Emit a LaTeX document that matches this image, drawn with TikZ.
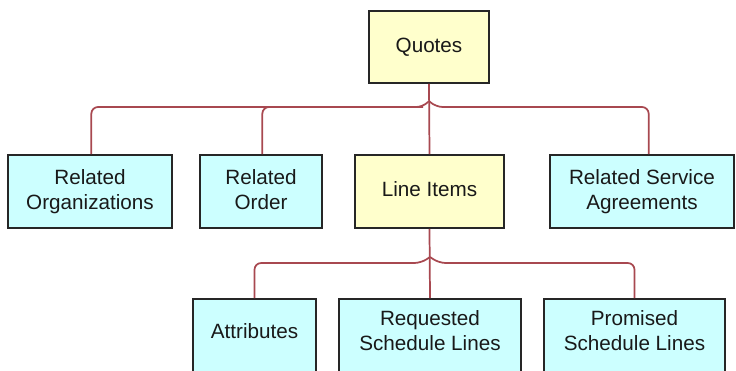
\documentclass[tikz,border=0pt]{standalone}
\usepackage{fontspec}
\setmainfont{Liberation Sans}
\definecolor{boxcyan}{HTML}{CCFFFF}
\definecolor{boxyellow}{HTML}{FFFFCC}
\definecolor{connred}{HTML}{A84850}
\begin{document}
\begin{tikzpicture}[x=0.75pt,y=-0.75pt,
  box/.style={draw=black!85,line width=1.4pt,align=center,inner sep=0pt,
    font=\fontsize{15.5}{18.75}\selectfont,text=black!90},
  cbox/.style={box,fill=boxcyan},
  ybox/.style={box,fill=boxyellow},
  conn/.style={draw=connred,line width=1.3pt}]
\useasboundingbox (0,0) rectangle (736,371);
\clip (0,0) rectangle (736,371);
% top level
\node[ybox,minimum width=90pt,minimum height=54pt] (quotes) at (429,47) {Quotes\strut};
% second row
\node[cbox,minimum width=123pt,minimum height=54.75pt] (rorg) at (90,191.5) {\strut Related\\Organizations\strut};
\node[cbox,minimum width=91.5pt,minimum height=54.75pt] (rord) at (261,191.5) {\strut Related\\Order\strut};
\node[ybox,minimum width=111.75pt,minimum height=54.75pt] (li) at (429.5,191.5) {Line Items\strut};
\node[cbox,minimum width=138pt,minimum height=54.75pt] (rsa) at (642,191.5) {\strut Related Service\\Agreements\strut};
% third row (cut by the lower edge)
\node[cbox,minimum width=92.25pt,minimum height=60pt] (attr) at (254.5,339) {};
\node[cbox,minimum width=136.5pt,minimum height=60pt] (req) at (430,339) {};
\node[cbox,minimum width=135.75pt,minimum height=60pt] (prom) at (634.5,339) {};
\node[box,draw=none,fill=none] (attrtext) at (254.5,333) {Attributes\strut};
\node[box,draw=none,fill=none] (reqtext) at (430,333) {\strut Requested\\Schedule Lines\strut};
\node[box,draw=none,fill=none] (promtext) at (634.5,333) {\strut Promised\\Schedule Lines\strut};
% junction points
\coordinate (tL) at (423,107);
\coordinate (tR) at (436,107);
\coordinate (tT) at (429,101);
\coordinate (bL) at (421,263);
\coordinate (bR) at (439,263);
\coordinate (bT) at (430,257);
% connectors
\draw[conn] (quotes.south) -- (li.north);
\draw[conn,rounded corners=5] ([xshift=1]rorg.north) |- (tL) -- (tT);
\draw[conn,rounded corners=5] ([xshift=1]rord.north) |- (tL);
\draw[conn,rounded corners=5] ([xshift=5]rsa.north) |- (tR) -- (tT);
\draw[conn] (li.south) -- (req.north);
\draw[conn,rounded corners=5] (attr.north) |- (bL) -- (bT);
\draw[conn,rounded corners=5] (prom.north) |- (bR) -- (bT);
\end{tikzpicture}
\end{document}
